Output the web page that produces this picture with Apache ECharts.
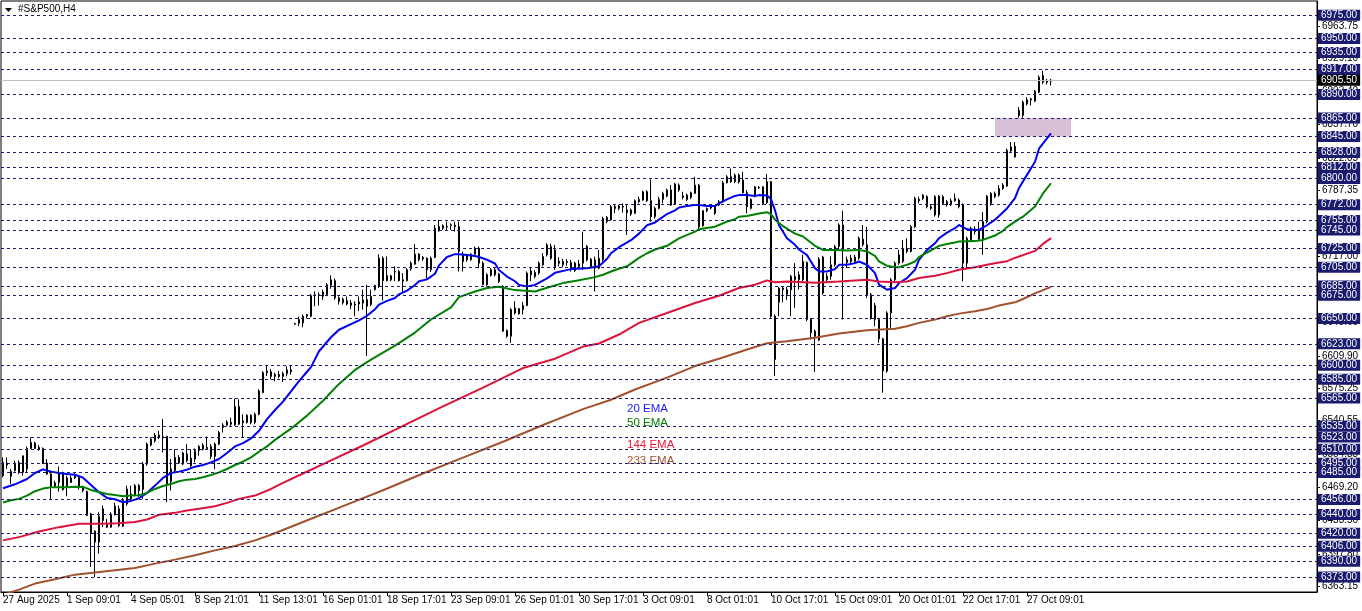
<!DOCTYPE html>
<html><head><meta charset="utf-8">
<script src="https://cdn.jsdelivr.net/npm/echarts@6/dist/echarts.min.js"></script>
<style>html,body{margin:0;padding:0;background:#fff}#c{width:1362px;height:611px}</style>
</head><body><div id="c"></div>
<script>
const tickLabels = ['27 Aug 2025','1 Sep 09:01','4 Sep 05:01','8 Sep 21:01','11 Sep 13:01','16 Sep 01:01','18 Sep 17:01','23 Sep 09:01','26 Sep 01:01','30 Sep 17:01','3 Oct 09:01','8 Oct 01:01','10 Oct 17:01','15 Oct 09:01','20 Oct 01:01','22 Oct 17:01','27 Oct 09:01'];

const openP = [
6481.7,6493.1,6481.0,6487.0,6495.9,6485.2,6488.8,6510.8,6516.5,6511.9,
6510.8,6495.2,6483.5,6470.3,6474.5,6483.5,6469.2,6474.5,6479.2,6479.9,
6469.2,6464.6,6440.8,6422.2,6410.5,6446.1,6429.4,6426.5,6440.4,6446.1,
6427.6,6451.4,6456.8,6461.0,6471.0,6467.0,6494.1,6514.4,6519.0,6525.1,
6523.3,6523.6,6475.3,6487.0,6501.2,6494.1,6504.8,6500.5,6499.5,6508.4,
6510.1,6511.9,6513.0,6502.3,6515.5,6533.3,6535.7,6538.8,6536.1,6555.7,
6538.4,6538.6,6546.4,6538.6,6547.5,6570.6,6592.0,6593.0,6588.0,6590.0,
6588.0,6591.0,6595.0,6644.0,6645.0,6645.4,6652.5,6652.5,6674.5,6675.5,
6673.8,6675.6,6685.6,6690.6,6672.0,6667.0,6669.2,6666.7,6665.5,6665.6,
6666.7,6670.3,6665.0,6681.0,6684.5,6714.7,6690.6,6691.6,6700.5,6700.5,
6691.6,6690.6,6703.4,6708.3,6719.0,6715.5,6714.7,6702.3,6715.5,6748.5,
6746.8,6748.5,6749.6,6750.0,6748.5,6719.0,6713.0,6713.0,6719.0,6725.4,
6709.4,6686.3,6696.2,6702.3,6697.7,6684.5,6637.2,6631.1,6661.4,6655.0,
6659.6,6664.0,6697.0,6695.1,6698.7,6707.6,6718.3,6727.2,6723.6,6711.2,
6707.6,6710.0,6710.1,6709.4,6705.8,6725.4,6727.2,6713.6,6712.9,6704.0,
6713.3,6753.9,6755.7,6770.0,6768.1,6770.0,6766.3,6762.1,6762.8,6775.2,
6777.0,6785.9,6776.3,6759.2,6768.1,6777.7,6781.3,6787.7,6772.7,6793.0,
6781.3,6782.3,6779.9,6784.1,6793.0,6749.3,6765.6,6768.5,6762.8,6771.7,
6775.2,6795.5,6801.9,6796.6,6803.7,6798.4,6784.8,6768.1,6781.3,6790.5,
6791.2,6774.2,6796.6,6652.5,6667.4,6682.7,6681.0,6680.9,6691.6,6697.0,
6691.6,6710.1,6649.0,6636.5,6626.9,6715.8,6691.6,6695.2,6707.6,6727.2,
6750.3,6713.0,6711.2,6711.2,6714.7,6735.0,6729.0,6675.6,6663.9,6648.9,
6628.3,6593.8,6656.0,6691.6,6709.4,6711.2,6725.4,6721.9,6748.5,6777.7,
6778.8,6780.6,6769.9,6780.6,6761.0,6780.6,6775.2,6772.7,6776.3,6777.0,
6771.7,6709.4,6734.3,6746.0,6744.0,6734.3,6753.8,6784.1,6780.6,6782.3,
6789.4,6791.9,6829.6,6834.6,6873.0,6867.7,6880.1,6885.5,6883.0,6892.6,
6910.4,6905.1,6904.4];

const highP = [
6501.2,6501.2,6488.8,6497.7,6498.0,6503.0,6513.0,6522.6,6518.0,6514.4,
6511.9,6499.5,6487.0,6476.3,6491.6,6486.0,6481.7,6481.7,6484.2,6481.7,
6471.0,6465.7,6441.8,6423.0,6442.5,6449.6,6435.4,6442.5,6452.5,6449.6,
6457.5,6471.0,6471.0,6472.8,6472.8,6496.6,6517.2,6522.6,6527.2,6529.7,
6542.2,6524.4,6499.5,6510.1,6503.7,6507.3,6515.5,6510.1,6510.8,6514.4,
6516.5,6523.7,6515.5,6517.2,6529.7,6537.9,6541.1,6543.9,6564.2,6563.5,
6547.5,6547.5,6547.5,6549.3,6574.2,6593.7,6599.1,6596.0,6592.0,6594.0,
6593.0,6599.0,6600.0,6645.5,6652.0,6654.3,6655.0,6676.3,6679.2,6678.0,
6681.0,6688.0,6696.3,6693.0,6673.8,6672.5,6673.8,6670.0,6668.5,6673.8,
6681.0,6686.3,6681.0,6686.3,6719.0,6716.5,6716.5,6697.0,6705.9,6702.3,
6698.7,6704.1,6711.2,6729.7,6720.1,6717.0,6715.5,6716.5,6750.3,6755.7,
6751.0,6753.9,6752.0,6753.9,6753.9,6721.9,6719.0,6720.0,6727.2,6727.2,
6711.2,6698.7,6704.1,6704.1,6698.7,6685.6,6638.3,6661.4,6668.5,6661.4,
6667.8,6700.5,6705.0,6702.0,6711.2,6720.0,6730.7,6730.0,6728.9,6715.8,
6714.0,6713.6,6712.9,6711.0,6712.9,6743.2,6728.9,6715.0,6716.5,6723.6,
6759.2,6760.0,6771.7,6771.7,6772.0,6773.4,6771.7,6768.0,6777.7,6780.6,
6787.0,6787.7,6799.1,6770.0,6780.6,6785.9,6789.2,6793.0,6795.5,6794.8,
6785.9,6784.0,6786.0,6801.9,6794.1,6766.3,6769.0,6771.7,6771.5,6777.0,
6797.6,6803.7,6810.8,6805.5,6805.5,6807.2,6787.7,6778.8,6791.9,6792.0,
6791.9,6804.8,6797.6,6654.3,6683.8,6683.8,6684.0,6696.9,6709.4,6700.5,
6718.3,6711.2,6650.7,6638.2,6715.8,6717.2,6698.7,6716.5,6729.0,6752.1,
6765.6,6716.5,6718.3,6718.3,6737.9,6750.3,6748.5,6677.4,6666.7,6650.7,
6629.4,6657.8,6693.4,6711.2,6723.6,6734.3,6736.1,6750.3,6780.6,6780.6,
6783.4,6782.3,6772.7,6782.3,6782.3,6782.3,6777.0,6778.8,6784.1,6778.8,
6773.4,6737.9,6748.5,6749.0,6753.9,6764.2,6782.3,6785.5,6786.0,6793.0,
6795.0,6832.1,6839.2,6839.2,6876.6,6883.7,6887.3,6886.6,6895.1,6910.4,
6915.7,6906.8,6906.8];

const lowP = [
6479.9,6488.8,6472.8,6486.0,6483.5,6481.7,6485.2,6510.1,6510.1,6508.4,
6494.1,6482.4,6456.1,6469.2,6464.6,6465.7,6459.6,6473.8,6478.1,6466.7,
6463.9,6438.3,6383.8,6373.1,6398.1,6426.5,6425.5,6425.5,6439.0,6426.5,
6426.5,6449.6,6455.0,6459.6,6458.6,6456.8,6492.3,6513.0,6517.2,6520.8,
6506.6,6453.2,6465.7,6485.2,6494.1,6493.1,6495.9,6490.6,6495.9,6503.0,
6508.7,6509.4,6499.5,6488.8,6514.4,6527.9,6534.3,6535.0,6535.0,6536.1,
6522.6,6537.5,6536.8,6536.8,6546.4,6569.9,6588.4,6585.0,6583.0,6586.0,
6582.0,6588.0,6590.0,6643.5,6642.0,6640.7,6650.0,6651.4,6663.2,6664.0,
6670.0,6674.0,6682.0,6670.0,6665.0,6665.0,6664.2,6660.0,6652.5,6658.0,
6659.6,6609.8,6663.2,6680.0,6682.7,6669.2,6689.8,6690.0,6690.0,6689.8,
6677.4,6689.8,6701.2,6707.6,6711.2,6712.0,6692.7,6700.0,6714.7,6743.2,
6745.0,6745.0,6745.0,6743.2,6700.5,6700.5,6711.0,6712.0,6718.3,6704.1,
6685.6,6684.5,6695.0,6695.0,6688.1,6635.8,6629.4,6624.0,6654.3,6654.3,
6654.3,6663.2,6690.0,6693.0,6697.0,6706.0,6716.5,6713.0,6702.2,6705.8,
6705.0,6706.5,6700.4,6700.0,6704.0,6702.2,6711.2,6704.0,6679.1,6702.9,
6711.2,6752.0,6755.0,6762.8,6766.0,6763.5,6739.6,6760.0,6762.1,6773.4,
6776.3,6775.0,6753.9,6757.0,6767.0,6773.4,6780.0,6770.6,6771.7,6785.9,
6777.7,6776.0,6778.0,6783.4,6745.0,6748.5,6764.0,6767.0,6761.0,6770.6,
6774.2,6794.8,6795.5,6795.0,6794.8,6784.1,6762.8,6767.0,6779.9,6789.0,
6771.7,6772.7,6650.7,6588.4,6652.5,6667.4,6670.0,6652.5,6661.4,6681.0,
6688.1,6647.1,6627.6,6592.7,6625.8,6675.6,6688.1,6691.6,6705.8,6723.6,
6648.9,6704.1,6709.4,6709.4,6713.0,6727.2,6672.0,6648.9,6641.8,6624.0,
6570.6,6592.0,6640.0,6688.1,6707.6,6709.4,6720.1,6720.8,6746.8,6773.4,
6777.0,6768.1,6766.3,6759.2,6758.0,6771.7,6770.0,6770.6,6775.2,6768.1,
6689.8,6704.1,6732.5,6740.0,6733.0,6718.3,6752.0,6771.0,6779.0,6780.6,
6788.0,6791.2,6828.5,6822.5,6865.2,6865.2,6878.4,6878.4,6882.0,6891.5,
6901.5,6900.8,6899.7];

const closeP = [
6495.9,6495.2,6486.3,6495.2,6485.2,6503.0,6510.8,6517.2,6510.8,6510.1,
6495.2,6483.5,6470.3,6473.8,6483.5,6466.7,6479.2,6479.2,6481.7,6469.2,
6465.7,6439.0,6420.1,6410.5,6438.3,6433.6,6426.5,6440.4,6449.0,6428.3,
6455.0,6467.4,6462.1,6471.0,6465.7,6494.1,6515.5,6520.8,6525.1,6522.6,
6522.2,6472.8,6488.8,6501.2,6495.2,6505.9,6497.7,6492.3,6508.4,6513.0,
6514.4,6510.8,6502.3,6515.5,6527.9,6535.7,6539.3,6536.8,6555.7,6536.8,
6540.4,6546.4,6538.6,6547.5,6572.4,6592.0,6593.7,6588.0,6590.0,6588.0,
6591.0,6595.0,6593.0,6644.6,6649.0,6652.5,6654.3,6674.5,6675.5,6675.0,
6678.5,6686.3,6691.6,6672.0,6668.5,6670.8,6665.6,6664.2,6664.5,6667.8,
6670.0,6663.2,6673.8,6685.6,6714.7,6690.6,6696.2,6695.9,6699.8,6690.6,
6690.0,6702.3,6709.4,6719.0,6713.0,6714.0,6702.3,6714.7,6746.8,6743.9,
6749.6,6748.0,6750.6,6748.5,6721.9,6711.2,6717.6,6719.0,6725.4,6709.4,
6686.3,6697.0,6702.3,6697.0,6689.8,6636.5,6631.1,6659.6,6656.0,6660.7,
6664.0,6698.7,6701.0,6699.4,6709.4,6716.5,6728.9,6714.7,6705.8,6709.4,
6711.2,6711.2,6702.2,6701.5,6708.6,6709.4,6712.9,6705.8,6704.0,6714.7,
6757.4,6758.5,6769.9,6768.0,6770.6,6769.5,6763.5,6766.3,6776.3,6777.7,
6785.9,6776.3,6759.2,6768.1,6777.7,6784.1,6787.7,6771.7,6794.1,6787.7,
6779.9,6777.7,6784.8,6793.0,6748.5,6765.6,6768.1,6770.2,6770.6,6775.2,
6795.5,6801.9,6796.6,6803.7,6796.6,6784.8,6769.9,6777.7,6791.2,6790.0,
6773.4,6796.6,6652.5,6606.2,6682.7,6681.0,6676.0,6695.2,6695.2,6691.6,
6711.2,6649.0,6634.7,6631.1,6713.7,6677.4,6695.2,6707.6,6727.2,6750.3,
6723.6,6710.0,6714.7,6715.8,6736.1,6729.0,6675.6,6650.7,6648.9,6628.3,
6593.8,6656.0,6691.6,6709.4,6718.3,6725.4,6721.9,6748.5,6778.8,6776.3,
6782.3,6769.9,6768.1,6761.0,6781.3,6773.4,6771.7,6776.3,6778.8,6769.9,
6709.4,6736.1,6746.8,6743.0,6735.0,6753.8,6781.2,6773.4,6784.1,6789.4,
6793.0,6830.3,6833.9,6823.2,6867.7,6881.9,6884.4,6884.5,6893.7,6908.6,
6903.3,6903.3,6905.5];

// moving averages: [bar index, value]
const ema20 = [[0,6468.1],[3,6472.4],[6,6478.1],[8,6484.5],[10,6488.4],[12,6486.0],[14,6484.5],[16,6483.5],[18,6482.7],[20,6479.5],[22,6471.7],[24,6463.9],[26,6457.8],[28,6456.4],[30,6453.2],[32,6454.6],[34,6457.5],[36,6463.2],[38,6471.0],[40,6479.2],[42,6484.5],[44,6486.0],[46,6488.1],[48,6491.3],[50,6493.1],[52,6495.9],[54,6499.5],[56,6505.9],[58,6513.0],[60,6516.5],[62,6521.5],[64,6529.7],[66,6542.2],[68,6552],[70,6561],[72,6572],[74,6583],[76,6593],[77,6598],[79,6615],[82,6630],[84,6638],[87,6644],[89,6648],[91,6653],[93,6660],[94,6665],[96,6669],[98,6672],[99,6676],[101,6680],[103,6686],[104,6690],[106,6692],[108,6698],[109,6707],[111,6716],[113,6719],[114,6719],[116,6718],[118,6717],[119,6716],[121,6713],[123,6709],[124,6702],[126,6695],[128,6690],[129,6686],[131,6684.5],[133,6686],[136,6693],[138,6699],[142,6703],[146,6704],[149,6706],[151,6714],[152,6720],[154,6726.5],[157,6734],[159,6741],[161,6750],[163,6753],[164,6756],[166,6762],[168,6766],[169,6769],[171,6770.6],[173,6771.7],[174,6771.7],[176,6770.6],[178,6770.6],[179,6773.4],[181,6777.7],[183,6781.4],[184,6782.3],[186,6782.3],[188,6781.3],[189,6782.3],[191,6781.8],[192,6778],[193,6766],[194,6750],[196,6736],[198,6729],[199,6724],[201,6718],[203,6704],[204,6700.5],[206,6700.5],[208,6703],[209,6707.6],[211,6707.6],[213,6709.4],[214,6711.2],[216,6707.6],[218,6698.7],[219,6686.3],[221,6680.9],[223,6682.7],[224,6688.1],[226,6693.4],[228,6702.3],[229,6713],[231,6723.6],[233,6730.7],[234,6736.1],[236,6742.1],[238,6746.8],[239,6750.3],[241,6745.7],[243,6745],[244,6745],[246,6750],[248,6756],[249,6760],[251,6768],[253,6779],[254,6790],[256,6804],[258,6818],[259,6832],[261,6843],[262,6848.5]];

const ema50 = [[0,6452.9],[2,6455.3],[4,6456.8],[6,6460.3],[8,6465.0],[10,6467.8],[12,6469.2],[16,6469.2],[18,6469.9],[20,6469.6],[22,6466.4],[24,6464.2],[26,6462.1],[28,6461.0],[30,6459.6],[32,6460.3],[34,6460.7],[36,6463.2],[38,6467.4],[40,6470.6],[42,6472.8],[44,6475.6],[46,6477.4],[48,6478.1],[50,6479.9],[52,6482.4],[54,6485.2],[56,6488.8],[58,6493.1],[60,6496.6],[62,6501.2],[64,6507.3],[66,6513.0],[68,6520],[72,6532],[76,6546],[80,6562],[84,6580],[88,6595],[92,6606],[98,6621],[103,6635],[107,6649],[112,6662],[114,6673],[118,6679],[121,6682.7],[124,6684],[128,6680.5],[133,6679],[136,6683],[140,6688],[144,6691],[148,6694.4],[150,6697],[153,6702],[156,6706],[159,6715],[161,6720],[163,6724],[166,6728],[169,6736],[173,6743.2],[174,6745.7],[178,6748.5],[179,6750.3],[181,6753.9],[183,6756.4],[184,6759.2],[186,6759.9],[189,6762.5],[191,6764],[192,6762],[193,6756],[195,6749],[198,6741],[200,6738],[203,6728],[205,6723.6],[208,6723.6],[211,6723],[214,6723.6],[216,6721.9],[218,6717.2],[219,6711.2],[221,6706.6],[223,6705.1],[224,6705.1],[226,6707.6],[228,6711.2],[229,6715.8],[231,6720.8],[233,6725.4],[234,6727.9],[236,6730],[238,6731.5],[239,6732.5],[243,6733],[245,6734.3],[248,6739],[250,6744],[251,6748],[253,6753.9],[255,6759.2],[258,6770],[260,6784.1],[262,6795]];

const ema144 = [[0,6412.3],[4,6415.8],[9,6421.9],[14,6426.5],[19,6430.1],[24,6430.1],[29,6430.8],[33,6432],[36,6434.7],[39,6439.7],[43,6441.8],[46,6444.3],[49,6446.1],[53,6448.9],[56,6452.5],[59,6456.8],[63,6460.3],[67,6467.4],[70,6474],[75,6484],[80,6494],[90,6514],[100,6535],[110,6556],[120,6576],[130,6597],[138,6607],[145,6620],[149,6623.3],[154,6632.9],[159,6645.4],[166,6656],[173,6666.7],[179,6674.5],[184,6682.7],[188,6686.3],[191,6690.9],[193,6689],[196,6689.8],[203,6688.5],[209,6689.8],[216,6691.6],[219,6689.8],[223,6689],[226,6689.8],[229,6693.4],[233,6695.9],[236,6698.7],[239,6702.3],[243,6705.1],[246,6707.6],[249,6710.1],[251,6711.5],[253,6715],[254,6716.5],[258,6722.5],[260,6730],[262,6736.2]];

const ema233 = [[0,6354],[4,6359.5],[8,6366],[13,6370.6],[18,6375.6],[23,6377.8],[28,6380.3],[33,6382.8],[38,6387.4],[43,6391.7],[48,6396.3],[53,6401.6],[58,6406.2],[63,6412.3],[67,6418.3],[75,6432],[85,6449],[95,6466],[105,6484],[115,6501],[125,6518],[135,6536],[145,6553],[152,6563],[158,6574],[166,6586.7],[173,6599.1],[179,6606.9],[186,6616.9],[191,6623.5],[196,6625.8],[203,6629.4],[209,6634],[216,6637.5],[223,6639],[226,6641.8],[229,6645.4],[233,6648.9],[236,6652.5],[239,6655.3],[243,6657.8],[246,6660.3],[249,6663.9],[253,6667.4],[255,6671],[258,6677],[262,6684]];

const levels = [6975,6950,6935,6917,6890,6865,6845,6828,6812,6800,6772,6755,6745,6725,6705,6685,6675,6650,6623,6600,6585,6565,6535,6523,6510,6495,6485,6456,6440,6420,6406,6390,6373];
const scaleLabels = [6963.75,6929.10,6893.40,6857.70,6822.05,6787.35,6752.65,6717.00,6681.30,6645.60,6609.90,6575.25,6540.55,6504.85,6469.20,6433.50,6397.80,6363.15];
const lastPrice = 6905.50;
const zoneBars = [248, 267];
const zonePrices = [6865, 6845];
const emaNames = ['20 EMA','50 EMA','144 EMA','233 EMA'];

const FONT = 'Liberation Sans';
const NAVY = '#1a1a6e';
const emaColors = ['#0000f0','#008000','#dc143c','#a0522d'];

const cats = Array.from({length: 329}, (_, i) => String(i));
const candles = openP.map((o, i) => [o, closeP[i], lowP[i], highP[i]]);
const showTick = (idx) => idx % 16 === 0 && idx / 16 < tickLabels.length;

const chart = echarts.init(document.getElementById('c'));
const emaSeries = [ema20, ema50, ema144, ema233].map((d, k) => ({
  type: 'line', data: d, z: 4, showSymbol: false, symbol: 'none', silent: true,
  lineStyle: {color: emaColors[k], width: 2}, itemStyle: {color: emaColors[k]}
}));

chart.setOption({
  animation: false,
  backgroundColor: '#ffffff',
  grid: {left: 1, top: 1, width: 1316, height: 591, show: true, borderColor: '#000', borderWidth: 1},
  xAxis: {
    type: 'category', data: cats, boundaryGap: true,
    axisLine: {show: true, lineStyle: {color: '#000'}},
    axisTick: {show: true, alignWithLabel: true, length: 4, interval: showTick, lineStyle: {color: '#000'}},
    axisLabel: {interval: showTick, formatter: (v, idx) => tickLabels[idx / 16] || '', align: 'left', margin: 3, color: '#000', fontSize: 10, fontFamily: FONT},
    splitLine: {show: false}
  },
  yAxis: {
    type: 'value', min: 6357, max: 6990.3, position: 'right',
    splitLine: {show: false},
    axisLine: {show: true, lineStyle: {color: '#000'}},
    axisTick: {show: true, customValues: scaleLabels, length: 3, lineStyle: {color: '#000'}},
    axisLabel: {show: false}
  },
  graphic: [
    {type: 'polygon', shape: {points: [[5, 8], [12, 8], [8.5, 12]]}, style: {fill: '#000'}},
    {type: 'text', left: 18, top: 4, style: {text: '#S&P500,H4', fill: '#000', font: '10px "Liberation Sans"'}},
    {type: 'text', left: 627, top: 403, style: {text: emaNames[0], fill: '#1a1aff', font: '11.5px "Liberation Sans"'}},
    {type: 'text', left: 627, top: 417, style: {text: emaNames[1], fill: '#008000', font: '11.5px "Liberation Sans"'}},
    {type: 'text', left: 627, top: 439, style: {text: emaNames[2], fill: '#f0143c', font: '11.5px "Liberation Sans"'}},
    {type: 'text', left: 627, top: 455, style: {text: emaNames[3], fill: '#a0522d', font: '11.5px "Liberation Sans"'}}
  ],
  series: [
    {
      type: 'line', data: [], z: 1, silent: true,
      markLine: {
        symbol: 'none', silent: true, animation: false,
        lineStyle: {color: 'rgba(0,0,0,0)', width: 0},
        label: {show: true, position: 'end', distance: 5, color: '#000', fontSize: 10, fontFamily: FONT},
        data: scaleLabels.map(v => ({yAxis: v, label: {formatter: v.toFixed(2)}}))
      }
    },
    {
      type: 'line', data: [], z: 2, silent: true,
      markArea: {silent: true, itemStyle: {color: '#d8bfd8'},
        data: [[{xAxis: zoneBars[0], yAxis: zonePrices[0]}, {xAxis: zoneBars[1], yAxis: zonePrices[1]}]]},
      markLine: {
        symbol: 'none', silent: true, animation: false,
        lineStyle: {color: NAVY, type: [3, 3], width: 1},
        label: {show: true, position: 'end', distance: 1, color: '#fff', backgroundColor: NAVY, padding: [1, 3, 0, 3], lineHeight: 10, fontSize: 10, fontFamily: FONT},
        data: levels.map(v => ({yAxis: v, label: {formatter: v.toFixed(2)}})).concat([
          {yAxis: lastPrice, lineStyle: {type: 'solid', color: '#c0c0c0'}, label: {formatter: lastPrice.toFixed(2), backgroundColor: '#000'}}
        ])
      }
    },
    {
      type: 'candlestick', data: candles, z: 3, barWidth: 2, silent: true,
      itemStyle: {color: '#ffffff', color0: '#000000', borderColor: '#000000', borderColor0: '#000000', borderColorDoji: '#000000', borderWidth: 1}
    }
  ].concat(emaSeries)
});
</script>
</body></html>
